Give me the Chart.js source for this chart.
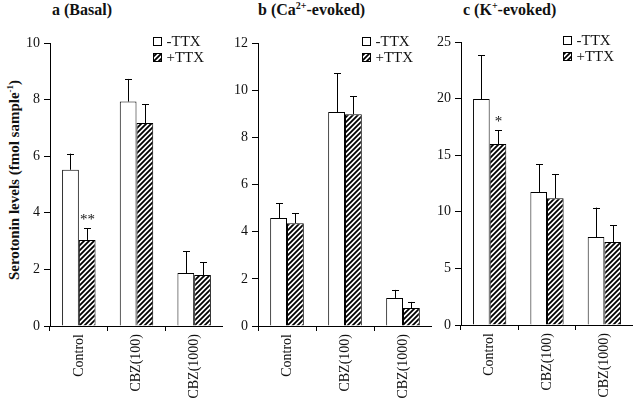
<!DOCTYPE html>
<html>
<head>
<meta charset="utf-8">
<script src="https://cdn.jsdelivr.net/npm/chart.js@4/dist/chart.umd.min.js"></script>
<style>
  html, body { margin: 0; padding: 0; background: #fff; }
  #wrap { position: relative; width: 640px; height: 402px; overflow: hidden; font-family: "Liberation Serif", serif; color: #111; }
  canvas { position: absolute; top: 0; }
  .ptitle { position: absolute; top: 0; font-size: 16px; line-height: 20px; font-weight: bold; white-space: nowrap; }
  .ptitle sup { font-size: 10px; line-height: 0; vertical-align: 6px; }
  #ytitle { position: absolute; left: 14px; top: 180px; font-size: 15px; font-weight: bold; white-space: nowrap;
            transform: translate(-50%, -50%) rotate(-90deg); }
  #ytitle sup { font-size: 9px; line-height: 0; vertical-align: 6px; }
</style>
</head>
<body>
<div id="wrap">
  <div id="ytitle">Serotonin levels (fmol sample<sup>-1</sup>)</div>
  <div class="ptitle" style="left:52px">a (Basal)</div>
  <div class="ptitle" style="left:258px">b (Ca<sup>2+</sup>-evoked)</div>
  <div class="ptitle" style="left:463px">c (K<sup>+</sup>-evoked)</div>
  <canvas id="chart-a" width="223" height="402" style="left:0px"></canvas>
  <canvas id="chart-b" width="204" height="402" style="left:228px"></canvas>
  <canvas id="chart-c" width="200" height="402" style="left:433px"></canvas>
</div>
<script>
// categories and series
const categories = ["Control", "CBZ(100)", "CBZ(1000)"];
const seriesLabels = ["-TTX", "+TTX"];

// a (Basal)
const basalMinus = [5.52, 7.93, 1.87];
const basalMinusErr = [0.57, 0.80, 0.78];
const basalPlus = [3.04, 7.17, 1.80];
const basalPlusErr = [0.42, 0.67, 0.45];
const basalMarks = ["**", "", ""];
const basalMax = 10;
const basalStep = 2;

// b (Ca2+-evoked)
const caMinus = [4.58, 9.07, 1.19];
const caMinusErr = [0.63, 1.65, 0.34];
const caPlus = [4.36, 8.98, 0.76];
const caPlusErr = [0.43, 0.77, 0.26];
const caMarks = ["", "", ""];
const caMax = 12;
const caStep = 2;

// c (K+-evoked)
const kMinus = [19.96, 11.75, 7.77];
const kMinusErr = [3.89, 2.47, 2.60];
const kPlus = [15.99, 11.20, 7.33];
const kPlusErr = [1.21, 2.14, 1.48];
const kMarks = ["*", "", ""];
const kMax = 25;
const kStep = 5;

Chart.defaults.font.family = "'Liberation Serif', serif";
Chart.defaults.color = "#111";

// diagonal hatch for the +TTX bars
function makeHatch() {
  const c = document.createElement("canvas");
  c.width = 5;
  c.height = 5;
  const g = c.getContext("2d");
  g.fillStyle = "#fff";
  g.fillRect(0, 0, 5, 5);
  g.strokeStyle = "#000";
  g.lineWidth = 1.8;
  g.beginPath();
  g.moveTo(-1, 6); g.lineTo(6, -1);
  g.moveTo(-1, 1); g.lineTo(1, -1);
  g.moveTo(4, 6); g.lineTo(6, 4);
  g.stroke();
  return g.createPattern(c, "repeat");
}
const hatch = makeHatch();

// one-sided error bars, significance marks and the small legend
const extrasPlugin = {
  id: "extras",
  afterDatasetsDraw(chart) {
    const ctx = chart.ctx;
    const yScale = chart.scales.y;
    ctx.save();
    ctx.strokeStyle = "#000";
    ctx.lineWidth = 1;
    chart.data.datasets.forEach((ds, di) => {
      const meta = chart.getDatasetMeta(di);
      meta.data.forEach((bar, i) => {
        const x = Math.round(bar.x) + 0.5;
        const yTop = yScale.getPixelForValue(ds.data[i] + ds.errors[i]);
        ctx.beginPath();
        ctx.moveTo(x, bar.y);
        ctx.lineTo(x, yTop);
        ctx.moveTo(x - 3.5, Math.round(yTop) + 0.5);
        ctx.lineTo(x + 3.5, Math.round(yTop) + 0.5);
        ctx.stroke();
        if (ds.marks && ds.marks[i]) {
          ctx.fillStyle = "#111";
          ctx.font = "15px 'Liberation Serif'";
          ctx.textAlign = "center";
          ctx.textBaseline = "alphabetic";
          ctx.fillText(ds.marks[i], x, yTop - 4);
        }
      });
    });
    ctx.restore();
  },
  afterDraw(chart) {
    const ctx = chart.ctx;
    const area = chart.chartArea;
    ctx.save();
    ctx.font = "15px 'Liberation Serif'";
    ctx.textBaseline = "middle";
    ctx.textAlign = "left";
    chart.data.datasets.forEach((ds, di) => {
      const bx = Math.round(area.right - 70) + 0.5;
      const cy = area.top - 2 + di * 16;
      ctx.fillStyle = ds.backgroundColor;
      ctx.fillRect(bx, cy - 4, 8, 8);
      ctx.strokeStyle = "#000";
      ctx.lineWidth = 1;
      ctx.strokeRect(bx, Math.round(cy - 4) + 0.5, 8, 8);
      ctx.fillStyle = "#111";
      ctx.fillText(ds.label, bx + 13, cy + 1);
    });
    ctx.restore();
  },
};

function buildPanel(id, minus, minusErr, plus, plusErr, marks, yMax, yStep, axisWidth, top) {
  const ctx = document.getElementById(id).getContext("2d");
  return new Chart(ctx, {
    type: "bar",
    data: {
      labels: categories,
      datasets: [
        {
          label: seriesLabels[0],
          data: minus,
          errors: minusErr,
          backgroundColor: "#fff",
          borderColor: "#000",
          borderWidth: 1,
        },
        {
          label: seriesLabels[1],
          data: plus,
          errors: plusErr,
          marks: marks,
          backgroundColor: hatch,
          borderColor: "#000",
          borderWidth: 1,
        },
      ],
    },
    options: {
      responsive: false,
      animation: false,
      devicePixelRatio: 1,
      layout: { padding: { top: top, left: 0, right: 0, bottom: 0 } },
      datasets: { bar: { categoryPercentage: 0.58, barPercentage: 1 } },
      plugins: { legend: { display: false }, tooltip: { enabled: false } },
      scales: {
        x: {
          afterFit: (s) => { s.height = 402 - (top + 283); },
          grid: { offset: true, drawOnChartArea: false, color: "#000", tickLength: 5 },
          border: { color: "#000", width: 1 },
          ticks: { minRotation: 90, maxRotation: 90, padding: 3, color: "#111", font: { size: 14 } },
        },
        y: {
          min: 0,
          max: yMax,
          afterFit: (s) => { s.width = axisWidth; },
          grid: { drawOnChartArea: false, color: "#000", tickLength: 6 },
          border: { color: "#000", width: 1 },
          ticks: { stepSize: yStep, padding: 4, color: "#111", font: { size: 14 } },
        },
      },
    },
    plugins: [extrasPlugin],
  });
}

buildPanel("chart-a", basalMinus, basalMinusErr, basalPlus, basalPlusErr, basalMarks, basalMax, basalStep, 50, 43);
buildPanel("chart-b", caMinus, caMinusErr, caPlus, caPlusErr, caMarks, caMax, caStep, 30, 43);
buildPanel("chart-c", kMinus, kMinusErr, kPlus, kPlusErr, kMarks, kMax, kStep, 28, 42);
</script>
</body>
</html>
